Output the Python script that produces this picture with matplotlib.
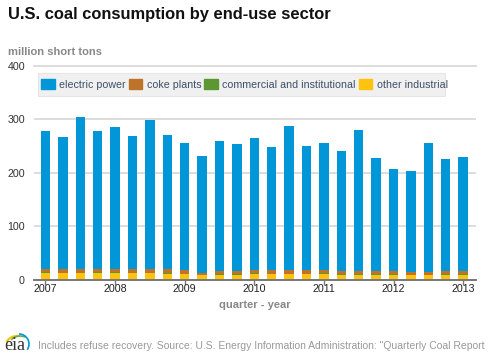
import matplotlib
matplotlib.use('Agg')
import matplotlib.pyplot as plt
from matplotlib.patches import Patch, Arc, Rectangle

plt.rcParams['font.family'] = ['Liberation Sans', 'DejaVu Sans']

quarters = ['2007 Q1', '2007 Q2', '2007 Q3', '2007 Q4',
            '2008 Q1', '2008 Q2', '2008 Q3', '2008 Q4',
            '2009 Q1', '2009 Q2', '2009 Q3', '2009 Q4',
            '2010 Q1', '2010 Q2', '2010 Q3', '2010 Q4',
            '2011 Q1', '2011 Q2', '2011 Q3', '2011 Q4',
            '2012 Q1', '2012 Q2', '2012 Q3', '2012 Q4',
            '2013 Q1']
other_industrial = [12, 12, 12, 12, 12, 12, 12, 11, 10, 8, 9, 9,
                    11, 10, 10, 10, 11, 9, 9, 9, 9, 8, 8, 9, 9]
commercial = [2, 1, 1, 2, 2, 1, 1, 1, 1, 1, 2, 2,
              2, 1, 1, 1, 2, 1, 1, 1, 1, 1, 1, 1, 1]
coke_plants = [6, 7, 7, 6, 6, 7, 6, 7, 6, 4, 5, 5,
               5, 6, 6, 6, 5, 6, 6, 6, 6, 5, 5, 6, 6]
total = [279, 267, 304, 279, 285, 269, 299, 270, 255, 232, 260, 253,
         265, 248, 287, 250, 255, 241, 280, 228, 207, 203, 255, 226, 230]
electric_power = [t - a - b - c for t, a, b, c in
                  zip(total, other_industrial, commercial, coke_plants)]
year_ticks = [0, 4, 8, 12, 16, 20, 24]
year_labels = ['2007', '2008', '2009', '2010', '2011', '2012', '2013']

blue = '#0096d7'
brown = '#bd732a'
green = '#5d9732'
yellow = '#ffc20e'

fig = plt.figure(figsize=(4.99, 3.62), dpi=100)
ax = fig.add_axes([34 / 499, 1 - 279.5 / 362, 442 / 499, 213.5 / 362])

x = list(range(len(quarters)))
w = 0.54
bottom = [0] * len(x)
for vals, c in [(other_industrial, yellow), (commercial, green),
                (coke_plants, brown), (electric_power, blue)]:
    ax.bar(x, vals, width=w, bottom=bottom, color=c, zorder=3)
    bottom = [b + v for b, v in zip(bottom, vals)]

ax.set_xlim(-0.66, 24.74)
ax.set_ylim(0, 400)
ax.set_yticks([0, 100, 200, 300, 400])
ax.set_xticks(year_ticks)
ax.set_xticklabels(year_labels, fontsize=7.7, color='#222222')
ax.tick_params(axis='x', length=3.5, width=1, color='#777777', pad=0)
ax.tick_params(axis='y', length=0, pad=6.5, labelsize=7.7, labelcolor='#333333')
ax.grid(axis='y', color='#dddddd', linewidth=1.4, zorder=0)
ax.set_axisbelow(True)
for s in ['top', 'right', 'left']:
    ax.spines[s].set_visible(False)
ax.spines['bottom'].set_color('#777777')
ax.spines['bottom'].set_linewidth(1.4)
ax.spines['bottom'].set_zorder(5)
ax.yaxis.get_gridlines()[4].set_clip_on(False)

# overlay in pixel coords for the legend box and the logo
over = fig.add_axes([0, 0, 1, 1], facecolor='none')
over.set_xlim(0, 499)
over.set_ylim(362, 0)
over.axis('off')
over.add_patch(Rectangle((38, 73), 407, 23, facecolor='#f0f0f0', edgecolor='#e6e6e6', lw=0.8))

handles = [Patch(color=blue, label='electric power'),
           Patch(color=brown, label='coke plants'),
           Patch(color=green, label='commercial and institutional'),
           Patch(color=yellow, label='other industrial')]
leg = over.legend(handles=handles, ncol=4, loc='center left',
                  bbox_to_anchor=(41 / 499, 1 - 84.5 / 362), borderaxespad=0,
                  fontsize=7.62, labelcolor='#3d4f66', frameon=False,
                  handlelength=1.3, handleheight=0.95, handletextpad=0.4,
                  columnspacing=0.28, borderpad=0)

fig.text(8 / 499, 1 - 15 / 362, 'U.S. coal consumption by end-use sector',
         fontsize=11.9, fontweight='bold', color='#111111', va='center')
fig.text(8 / 499, 1 - 52 / 362, 'million short tons',
         fontsize=8.0, fontweight='bold', color='#888888', va='center')
fig.text(255 / 499, 1 - 304.5 / 362, 'quarter - year',
         fontsize=8.0, fontweight='bold', color='#888888', va='center', ha='center')
fig.text(38 / 499, 1 - 346 / 362,
         'Includes refuse recovery. Source: U.S. Energy Information Administration: "Quarterly Coal Report',
         fontsize=7.5, color='#999999', va='center')

# eia logo
over.text(15, 345.5, 'eia', family='Liberation Serif', fontsize=13, color='#333333',
          ha='center', va='center')
over.add_patch(Arc((17, 345), 22, 18, theta1=195, theta2=285, color='#f5c400', lw=1.5))
over.add_patch(Arc((20, 346), 22, 20, theta1=215, theta2=300, color='#6aa84f', lw=1.2))
over.add_patch(Arc((19, 344), 20, 20, theta1=270, theta2=395, color='#0096d7', lw=1.2))

fig.savefig('out.png', dpi=100)
